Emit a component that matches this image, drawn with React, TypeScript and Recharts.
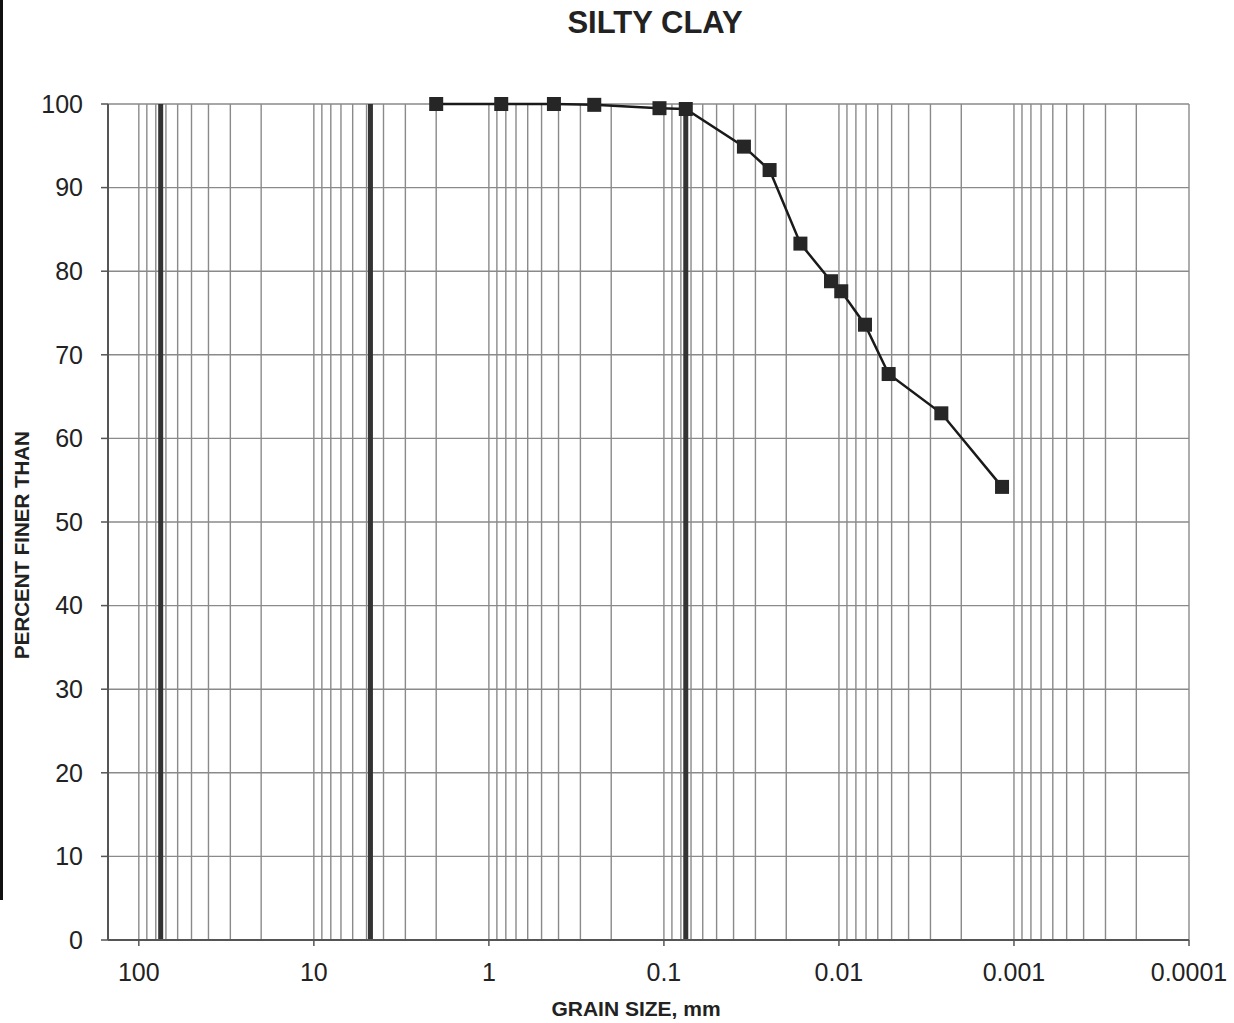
import React from 'react';
import { LineChart, Line, XAxis, YAxis, CartesianGrid, ReferenceLine } from 'recharts';

// Grain size distribution (sieve + hydrometer)
const grainSizeMm = [2.0, 0.85, 0.425, 0.25, 0.106, 0.075, 0.0349, 0.0249, 0.0166, 0.0111, 0.0097, 0.0071, 0.0052, 0.0026, 0.00117];
const percentFiner = [100, 100, 100, 99.9, 99.5, 99.4, 94.9, 92.1, 83.3, 78.8, 77.6, 73.6, 67.7, 63.0, 54.2];

const xTicks = [100, 10, 1, 0.1, 0.01, 0.001, 0.0001];
const xTickLabels = ['100', '10', '1', '0.1', '0.01', '0.001', '0.0001'];
const yTicks = [0, 10, 20, 30, 40, 50, 60, 70, 80, 90, 100];
const boundarySizes = [75, 4.75, 0.075];
const decadeExponents = [-4, -3, -2, -1, 0, 1];
const minorMultipliers = [1, 2, 3, 4, 5, 6, 7, 8, 9];

const FONT = '"Liberation Sans", Arial, Helvetica, sans-serif';

const data = grainSizeMm.map((s, i) => ({ size: s, pct: percentFiner[i] }));
const minorGrid: number[] = [];
decadeExponents.forEach((e) => {
  minorMultipliers.forEach((m) => {
    minorGrid.push(parseFloat((m * Math.pow(10, e)).toPrecision(6)));
  });
});
minorGrid.push(100);

const SquareDot = (props: any) => {
  const { cx, cy, index } = props;
  if (cx == null || cy == null) return null;
  return <rect key={`d-${index}`} x={cx - 7} y={cy - 7} width={14} height={14} fill="#262626" />;
};

export default function App() {
  return (
    <div style={{ position: 'absolute', left: 0, top: 0, width: 1234, height: 1023, background: '#fff', fontFamily: FONT }}>
      <LineChart width={1234} height={1023} data={data} margin={{ top: 104, right: 45, bottom: 0, left: 0 }}>
        <CartesianGrid vertical={false} stroke="#8a8a8a" strokeWidth={1.4} />
        {minorGrid.map((v) => (
          <ReferenceLine key={`g-${v}`} x={v} stroke="#8a8a8a" strokeWidth={1.4} zIndex={-50} />
        ))}
        {boundarySizes.map((v) => (
          <ReferenceLine key={`b-${v}`} x={v} stroke="#333" strokeWidth={5} zIndex={-40} />
        ))}
        <XAxis
          dataKey="size"
          type="number"
          scale="log"
          domain={[0.0001, 150]}
          allowDataOverflow
          reversed
          ticks={xTicks}
          interval={0}
          tickFormatter={(v: number) => xTickLabels[xTicks.indexOf(v)] ?? String(v)}
          height={83}
          tickSize={6}
          tickMargin={17}
          tick={{ fontSize: 25, fill: '#222', fontFamily: FONT }}
          axisLine={{ stroke: '#555', strokeWidth: 2 }}
          tickLine={{ stroke: '#555', strokeWidth: 1.5 }}
        />
        <YAxis
          type="number"
          domain={[0, 100]}
          ticks={yTicks}
          interval={0}
          width={108}
          tickSize={7}
          tickMargin={18}
          tick={{ fontSize: 25, fill: '#222', fontFamily: FONT }}
          axisLine={{ stroke: '#555', strokeWidth: 2 }}
          tickLine={{ stroke: '#555', strokeWidth: 1.5 }}
        />
        <Line
          dataKey="pct"
          type="linear"
          stroke="#1a1a1a"
          strokeWidth={2.5}
          dot={SquareDot}
          activeDot={false}
          isAnimationActive={false}
        />
      </LineChart>
      <svg width={1234} height={1023} style={{ position: 'absolute', left: 0, top: 0, pointerEvents: 'none' }}>
        <rect x={0} y={0} width={3} height={900} fill="#111" />
        <text x={655} y={33} textAnchor="middle" fontSize={31} fontWeight="bold" fill="#222" fontFamily={FONT}>
          SILTY CLAY
        </text>
        <text x={636} y={1016} textAnchor="middle" fontSize={21} fontWeight="bold" fill="#222" fontFamily={FONT}>
          GRAIN SIZE, mm
        </text>
        <text
          x={0}
          y={0}
          transform="translate(29,545) rotate(-90)"
          textAnchor="middle"
          fontSize={20.5}
          fontWeight="bold"
          fill="#222"
          fontFamily={FONT}
        >
          PERCENT FINER THAN
        </text>
      </svg>
    </div>
  );
}
